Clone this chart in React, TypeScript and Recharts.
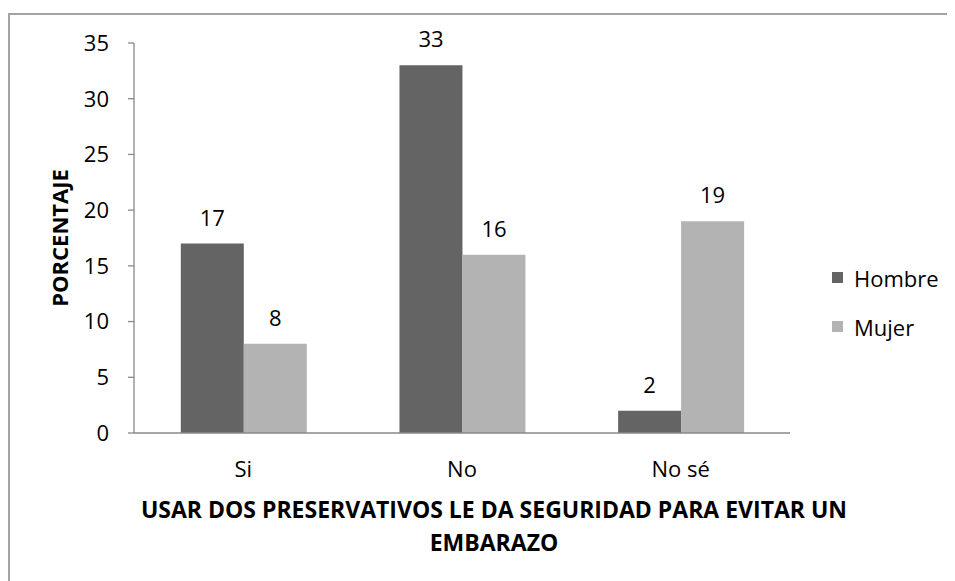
import React from 'react';
import { BarChart, Bar, XAxis, YAxis, LabelList } from 'recharts';

// Responses grouped by answer, split by sex
const categories = ['Si', 'No', 'No sé'];
const hombre = [17, 33, 2];
const mujer = [8, 16, 19];
const yTicks = [0, 5, 10, 15, 20, 25, 30, 35];

const seriesNames = { hombre: 'Hombre', mujer: 'Mujer' };
const colors = { hombre: '#646464', mujer: '#b3b3b3' };

const data = categories.map((c, i) => ({ name: c, hombre: hombre[i], mujer: mujer[i] }));

const FONT = '"Open Sans", "Noto Sans", sans-serif';
const AXIS = '#898989';

const SeriesLegend = () => (
  <div
    style={{
      position: 'absolute',
      left: 824,
      top: 245,
      fontFamily: FONT,
      fontSize: 22,
      color: '#000',
    }}
  >
    {(['hombre', 'mujer'] as const).map((k) => (
      <div key={k} style={{ display: 'flex', alignItems: 'center', height: 49 }}>
        <span style={{ display: 'inline-block', width: 11, height: 11, background: colors[k], marginRight: 11 }} />
        <span>{seriesNames[k]}</span>
      </div>
    ))}
  </div>
);

export default function App() {
  return (
    <div style={{ position: 'relative', width: 947, height: 573 }}>
      <div
        style={{
          position: 'absolute',
          left: 0,
          top: 5,
          right: 0,
          bottom: 0,
          borderTop: '2px solid #a3a3a3',
          borderLeft: '2px solid #a3a3a3',
        }}
      />
      <div style={{ position: 'absolute', left: 0, top: 0 }}>
        <BarChart
          width={947}
          height={573}
          data={data}
          margin={{ top: 35, right: 165, bottom: 118, left: 0 }}
          barCategoryGap="21.4%"
          barGap={0}
        >
          <XAxis
            dataKey="name"
            height={30}
            tickLine={false}
            tickSize={0}
            tickMargin={28}
            axisLine={{ stroke: AXIS, strokeWidth: 1.3 }}
            tick={{ fontFamily: FONT, fontSize: 22, fill: '#000' }}
            label={{
              content: (props: any) => {
                const vb = props.viewBox;
                const cx = vb.x + vb.width / 2 + 32;
                return (
                  <text
                    textAnchor="middle"
                    fontFamily={FONT}
                    fontWeight="bold"
                    fontSize={23}
                    fill="#000"
                  >
                    <tspan x={cx} y={510}>USAR DOS PRESERVATIVOS LE DA SEGURIDAD PARA EVITAR UN</tspan>
                    <tspan x={cx} y={543}>EMBARAZO</tspan>
                  </text>
                );
              },
            }}
          />
          <YAxis
            width={126}
            domain={[0, 35]}
            ticks={yTicks}
            interval={0}
            tickSize={6}
            tickMargin={19}
            tickLine={{ stroke: AXIS, strokeWidth: 1.3 }}
            axisLine={{ stroke: AXIS, strokeWidth: 1.3 }}
            tick={{ fontFamily: FONT, fontSize: 22, fill: '#000' }}
            label={{
              content: (props: any) => {
                const vb = props.viewBox;
                const x = vb.x + 51;
                const y = vb.y + vb.height / 2;
                return (
                  <text
                    x={x}
                    y={y}
                    transform={`rotate(-90, ${x}, ${y})`}
                    textAnchor="middle"
                    dominantBaseline="central"
                    fontFamily={FONT}
                    fontWeight="bold"
                    fontSize={22}
                    fill="#000"
                  >
                    PORCENTAJE
                  </text>
                );
              },
            }}
          />
          <Bar dataKey="hombre" name={seriesNames.hombre} fill={colors.hombre} isAnimationActive={false}>
            <LabelList dataKey="hombre" position="top" offset={18} fontFamily={FONT} fontSize={22} fill="#000" />
          </Bar>
          <Bar dataKey="mujer" name={seriesNames.mujer} fill={colors.mujer} isAnimationActive={false}>
            <LabelList dataKey="mujer" position="top" offset={18} fontFamily={FONT} fontSize={22} fill="#000" />
          </Bar>
        </BarChart>
      </div>
      <SeriesLegend />
    </div>
  );
}
